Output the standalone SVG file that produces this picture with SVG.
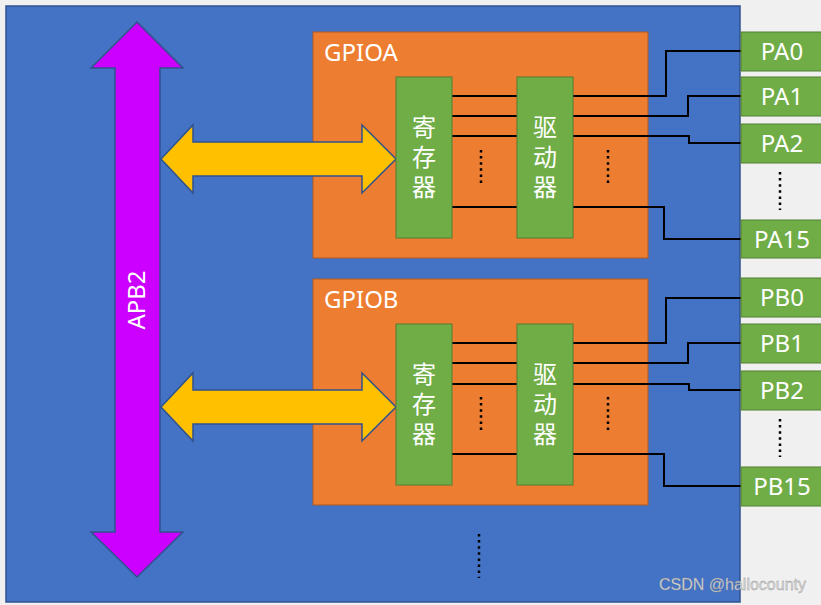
<svg xmlns="http://www.w3.org/2000/svg" width="821" height="605" viewBox="0 0 821 605">
<defs>
<style>
.bg{fill:#F0F0F0}
.chip{fill:#4472C4;stroke:#2F528F;stroke-width:1.5}
.port{fill:#ED7D31;stroke:#AE5A21;stroke-width:1}
.blk{fill:#70AD47;stroke:#507E32;stroke-width:1}
.bus{fill:#CC00FF;stroke:#2F528F;stroke-width:1.5}
.yarr{fill:#FFC000;stroke:#2F528F;stroke-width:1.5}
.wire{fill:none;stroke:#000;stroke-width:2}
.dots{fill:none;stroke:#000;stroke-width:2.5;stroke-dasharray:2.5 3.6}
.t{font-family:"Noto Sans","Liberation Sans","Noto Sans CJK SC",sans-serif;fill:#fff}
.tc{font-family:"Noto Sans CJK SC","Noto Sans",sans-serif;fill:#fff;font-size:24px;text-anchor:middle;writing-mode:vertical-rl;letter-spacing:6px}
.pin{font-size:24px;text-anchor:middle}
</style>
</defs>
<rect class="bg" x="0" y="0" width="821" height="605"/>
<rect class="chip" x="6" y="6" width="734" height="596"/>

<g id="apb2">
<polygon class="bus" points="137,22 183,68 160,68 160,532 183,532 137,577 91,532 115,532 115,68 91,68"/>
<text class="t" x="0" y="0" font-size="24" text-anchor="middle" transform="translate(145,300) rotate(-90)">APB2</text>
</g>

<g id="gpioa">
<rect class="port" x="313" y="32" width="335" height="226"/>
<text class="t" x="324" y="61" font-size="24">GPIOA</text>
</g>
<g id="gpiob">
<rect class="port" x="313" y="279" width="335" height="226"/>
<text class="t" x="324" y="308" font-size="24">GPIOB</text>
</g>

<g id="connectors">
<polygon class="yarr" points="161,159 193,125 193,142 362,142 362,125 396,159 362,193 362,176 193,176 193,193"/>
<polygon class="yarr" points="161,407 193,373 193,390 362,390 362,373 396,407 362,441 362,424 193,424 193,441"/>
<g>
<path class="wire" d="M452,96H517M452,116H517M452,136H517M452,207H517"/>
<path class="wire" d="M573,96H666V51H741M573,116H688V96H741M573,136H689V143H741M573,207H664V239H741"/>
<path class="wire" d="M452,343H517M452,363H517M452,384H517M452,454H517"/>
<path class="wire" d="M573,343H666V298H741M573,363H688V343H741M573,384H689V390H741M573,454H664V486H741"/>
</g>
<path class="dots" d="M481,150V186M608,150V186M481,397V433M608,397V433M780,172V210M780,419V457M479,534V578"/>
</g>

<g id="rega">
<rect class="blk" x="396" y="77" width="56" height="161"/>
<text class="tc" x="424" y="160">寄存器</text>
</g>
<g id="drva">
<rect class="blk" x="517" y="77" width="56" height="161"/>
<text class="tc" x="545" y="160">驱动器</text>
</g>
<g id="regb">
<rect class="blk" x="396" y="324" width="56" height="161"/>
<text class="tc" x="424" y="407">寄存器</text>
</g>
<g id="drvb">
<rect class="blk" x="517" y="324" width="56" height="161"/>
<text class="tc" x="545" y="407">驱动器</text>
</g>

<g id="pa0"><rect class="blk" x="741" y="32" width="85" height="39"/><text class="t pin" x="782" y="60">PA0</text></g>
<g id="pa1"><rect class="blk" x="741" y="77" width="85" height="39"/><text class="t pin" x="782" y="105">PA1</text></g>
<g id="pa2"><rect class="blk" x="741" y="124" width="85" height="39"/><text class="t pin" x="782" y="152">PA2</text></g>
<g id="pa15"><rect class="blk" x="741" y="220" width="85" height="38"/><text class="t pin" x="782" y="248">PA15</text></g>
<g id="pb0"><rect class="blk" x="741" y="278" width="85" height="39"/><text class="t pin" x="782" y="306">PB0</text></g>
<g id="pb1"><rect class="blk" x="741" y="324" width="85" height="39"/><text class="t pin" x="782" y="352">PB1</text></g>
<g id="pb2"><rect class="blk" x="741" y="371" width="85" height="39"/><text class="t pin" x="782" y="399">PB2</text></g>
<g id="pb15"><rect class="blk" x="741" y="467" width="85" height="39"/><text class="t pin" x="782" y="495">PB15</text></g>

<text x="659" y="590" font-family="Liberation Sans,sans-serif" font-size="16" fill="#D8D8D8" stroke="#888" stroke-width="0.3">CSDN @hallocounty</text>
</svg>
